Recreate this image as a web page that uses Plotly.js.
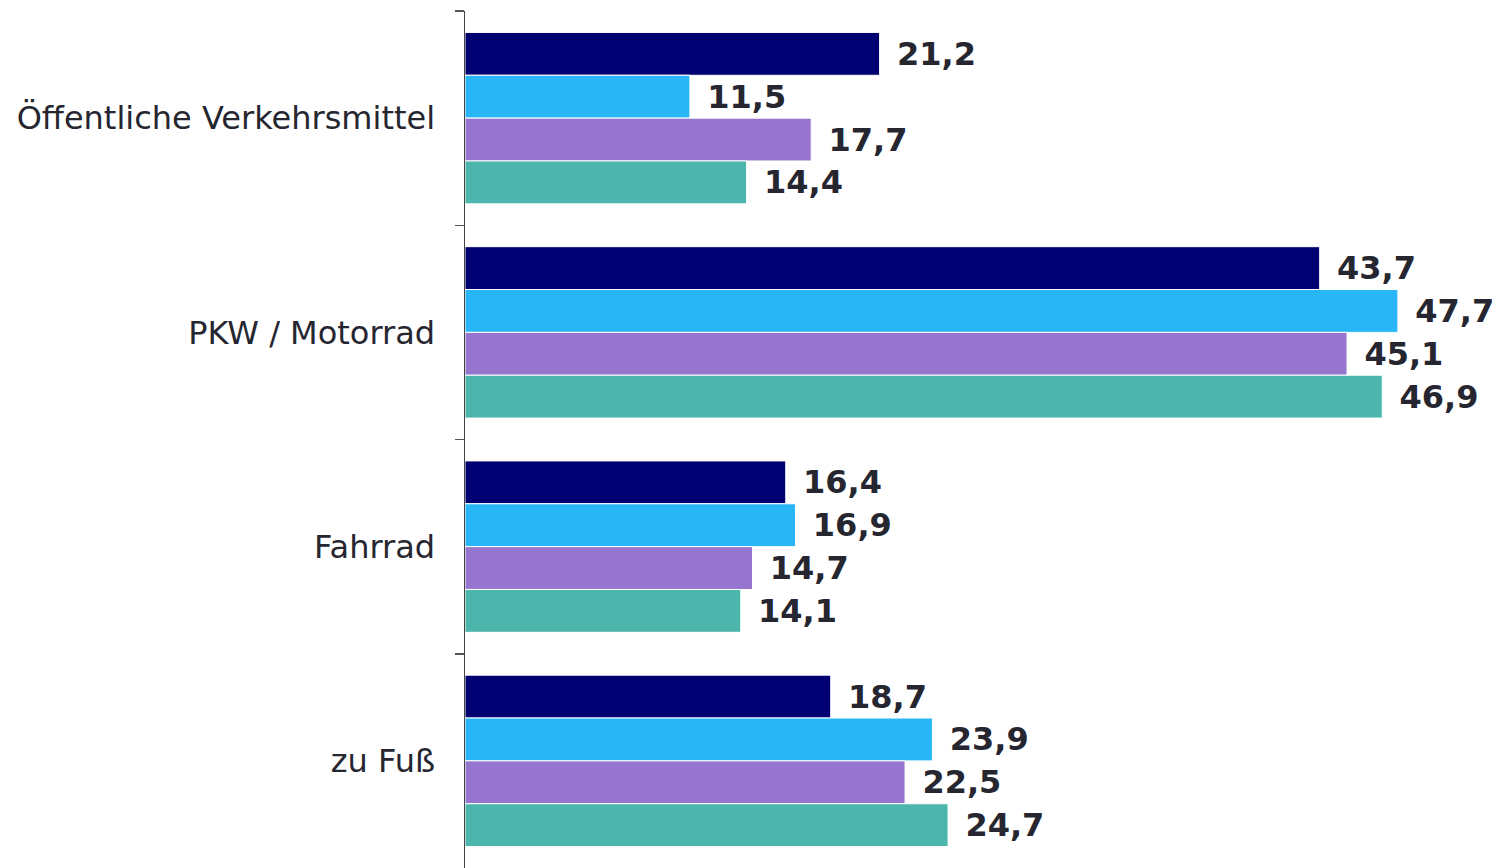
<!DOCTYPE html>
<html>
<head>
<meta charset="utf-8">
<script src="https://cdn.plot.ly/plotly-3.0.1.min.js"></script>
<style>html,body{margin:0;padding:0;background:#fff;}#chart{width:1502px;height:868px;}</style>
</head>
<body>
<div id="chart"></div>
<script>
const categories = ["Öffentliche Verkehrsmittel", "PKW / Motorrad", "Fahrrad", "zu Fuß"];
const seriesA = [21.2, 43.7, 16.4, 18.7];
const seriesB = [11.5, 47.7, 16.9, 23.9];
const seriesC = [17.7, 45.1, 14.7, 22.5];
const seriesD = [14.4, 46.9, 14.1, 24.7];
const seriesNames = ["Serie 1", "Serie 2", "Serie 3", "Serie 4"];
const seriesColors = ["#000072", "#29B6F6", "#9575CD", "#4DB6AC"];

const allSeries = [seriesA, seriesB, seriesC, seriesD];
const traces = allSeries.map((vals, i) => ({
  type: "bar",
  orientation: "h",
  name: seriesNames[i],
  y: categories,
  x: vals,
  marker: {color: seriesColors[i], line: {color: "#ffffff", width: 1}},
  text: vals.map(v => v.toFixed(1).replace(".", ",")),
  texttemplate: " \u200A%{text}",
  textposition: "outside",
  cliponaxis: false,
  textfont: {family: "DejaVu Sans, Verdana, sans-serif", size: 32, color: "#262630", weight: "bold"},
  hoverinfo: "x+y"
}));

const layout = {
  width: 1502, height: 868,
  margin: {l: 465, r: 20, t: 11, b: 0},
  barmode: "group",
  bargap: 0.2,
  bargroupgap: 0,
  showlegend: false,
  paper_bgcolor: "#ffffff",
  plot_bgcolor: "#ffffff",
  separators: ",.",
  font: {family: "DejaVu Sans, Verdana, sans-serif", color: "#262630"},
  xaxis: {range: [0, 52], visible: false, showgrid: false, zeroline: false, fixedrange: true},
  yaxis: {
    autorange: "reversed",
    showline: true, linecolor: "#444444", linewidth: 1.5,
    ticks: "outside", tickson: "boundaries", ticklen: 9, tickcolor: "#555555", tickwidth: 1.5,
    ticklabelstandoff: 22,
    tickfont: {family: "DejaVu Sans, Verdana, sans-serif", size: 32, color: "#262630"},
    showgrid: false, zeroline: false, fixedrange: true
  }
};

Plotly.newPlot("chart", traces, layout, {displayModeBar: false, staticPlot: true});
</script>
</body>
</html>
